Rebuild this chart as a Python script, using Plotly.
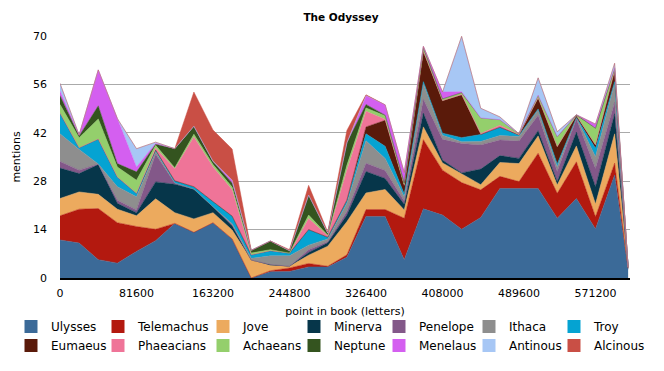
import plotly.graph_objects as go

# x positions (letters into the book)
positions = [0, 20400, 40800, 61200, 81600, 102000, 122400, 142800, 163200, 183600,
             204000, 224400, 244800, 265200, 285600, 306000, 326400, 346800, 367200, 387600,
             408000, 428400, 448800, 469200, 489600, 510000, 530400, 550800, 571200, 591600,
             606000]

ulysses    = [11.0, 10.1, 5.3, 4.3, 7.7, 10.8, 15.8, 13.2, 16.0, 11.3, 0.0, 1.8, 1.9, 3.2, 3.2, 6.0,
              17.8, 17.8, 5.3, 20.0, 18.2, 14.1, 17.5, 25.9, 25.9, 25.9, 17.3, 23.0, 14.2, 29.8, 2.5]
telemachus = [7.0, 9.8, 14.8, 11.7, 7.2, 3.3, 0, 0, 0, 0, 0, 0.3, 1.0, 1.0, 0.2, 0.7,
              2.0, 2.0, 12.0, 20.0, 13.0, 13.5, 8.0, 3.5, 2.0, 10.2, 7.2, 10.6, 3.5, 3.4, 0.3]
jove       = [5.0, 5.0, 4.1, 3.9, 3.1, 8.8, 3.1, 3.9, 2.9, 2.6, 5.2, 1.5, 0.5, 2.4, 5.8, 9.6,
              4.8, 5.8, 2.4, 3.7, 2.1, 2.5, 1.5, 4.0, 5.2, 5.0, 2.4, 4.6, 3.7, 8.5, 0.3]
minerva    = [8.8, 5.3, 8.6, 1.7, 0.9, 4.9, 8.2, 8.6, 1.7, 1.2, 0, 0.3, 0, 0.8, 1.0, 1.9,
              6.2, 3.2, 1.6, 4.0, 0.8, 0.3, 4.5, 2.0, 1.5, 1.5, 1.0, 4.0, 5.0, 5.8, 0]
penelope   = [1.9, 1.0, 0.2, 0.9, 0.8, 8.0, 0.4, 0, 0, 0.3, 0, 0, 0, 0.8, 0.3, 1.0,
              2.4, 2.3, 1.0, 4.0, 6.0, 8.5, 7.0, 4.5, 5.0, 4.5, 2.9, 3.8, 5.3, 3.3, 0]
ithaca     = [8.0, 6.0, 0, 3.9, 3.8, 0.8, 0, 0, 0, 0.3, 0.5, 2.5, 3.0, 1.3, 0.8, 2.4,
              6.5, 3.5, 1.2, 4.5, 1.2, 0.5, 1.0, 1.3, 1.3, 1.6, 1.4, 0.4, 3.4, 5.5, 0]
troy       = [6.0, 0.5, 7.2, 2.8, 1.0, 0.4, 0.6, 0.7, 1.5, 2.2, 1.0, 1.5, 0.8, 4.5, 0.5, 0.9,
              2.0, 3.5, 0.8, 0.6, 0.6, 1.2, 2.0, 2.4, 0.3, 0.2, 0.8, 0, 2.4, 0.5, 0]
eumaeus    = [0, 0, 0, 0, 0, 0, 0, 0, 0, 0, 0, 0, 0, 0, 0, 0,
              2.0, 7.5, 2.5, 8.6, 9.4, 12.3, 0, 0, 0.2, 3.2, 5.0, 0.6, 1.0, 3.2, 0]
phaeacians = [0, 0, 0, 0, 0, 0.6, 3.5, 14.4, 10.0, 7.6, 0, 0, 0, 3.2, 0.4, 8.7,
              4.5, 0.3, 0, 0.3, 0, 0.2, 0.3, 0.6, 0, 0, 0, 0, 0, 0, 0]
achaeans   = [2.5, 2.9, 5.8, 2.9, 3.8, 0.8, 0.3, 0.8, 0.7, 0.8, 0.5, 0.3, 0, 1.0, 0.2, 1.4,
              1.0, 1.0, 0.4, 0.6, 0.5, 0.5, 4.5, 1.6, 0.3, 0.8, 2.9, 0, 4.8, 0.5, 0]
neptune    = [2.6, 0.5, 3.8, 1.0, 2.4, 0.3, 5.5, 2.3, 0.8, 1.2, 0.8, 2.5, 0.7, 5.8, 0.6, 6.5,
              1.0, 0.2, 0.3, 0.3, 0, 0, 0, 0, 0, 0, 0, 0.2, 0, 0.3, 0]
menelaus   = [1.3, 0.3, 10.4, 13.0, 1.4, 0.3, 0, 0, 0.2, 0.8, 0, 0, 0, 0, 0, 0,
              2.6, 3.0, 3.0, 0.4, 2.0, 0.3, 0, 0, 0, 0, 0, 0, 1.2, 0, 0]
antinous   = [2.2, 0, 0, 0, 5.3, 0.3, 0, 0, 0, 0, 0, 0, 0, 0, 0, 0,
              0, 0, 0, 0, 0, 16.0, 2.8, 0.8, 0, 5.0, 1.4, 0, 0, 1.3, 0]
alcinous   = [0, 0, 0, 0, 0, 0, 0, 9.9, 9.0, 9.0, 0, 0, 0.3, 2.8, 0.3, 3.6,
              0.2, 0, 0, 0, 0, 0, 0, 0, 0, 0, 0, 0, 0, 0, 0]

names = ["Ulysses", "Telemachus", "Jove", "Minerva", "Penelope", "Ithaca", "Troy",
         "Eumaeus", "Phaeacians", "Achaeans", "Neptune", "Menelaus", "Antinous", "Alcinous"]
series = [ulysses, telemachus, jove, minerva, penelope, ithaca, troy,
          eumaeus, phaeacians, achaeans, neptune, menelaus, antinous, alcinous]
colors = ["#3b6a98", "#b3190f", "#ecaa5e", "#06364a", "#835889", "#8e8e8e", "#05a3d2",
          "#5a1a0a", "#ef7498", "#94cf6c", "#34541f", "#d45ff0", "#a7c7f5", "#c94f45"]

y_ticks = [0, 14, 28, 42, 56, 70]
x_ticks = [0, 81600, 163200, 244800, 326400, 408000, 489600, 571200]
x_tick_labels = ["0", "81600", "163200", "244800", "326400", "408000", "489600", "571200"]

FONT = "DejaVu Sans"
# the page body adds an 8px offset; figure coords = page coords - 8
OFF = 8
W, H = 664 - 2 * OFF, 371 - 2 * OFF
plot_l, plot_r, plot_t, plot_b = 60 - OFF, 630 - OFF, 36 - OFF, 278 - OFF
plot_w, plot_h = plot_r - plot_l, plot_b - plot_t

fig = go.Figure()

for name, vals, col in zip(names, series, colors):
    fig.add_trace(go.Scatter(
        x=positions, y=vals, name=name, stackgroup="one", mode="lines",
        line=dict(width=0.5, color=col), fillcolor=col, showlegend=False,
        hoverinfo="skip"))

# legend: 7 columns, each with two entries
col_left_px = [28, 115, 220, 311, 396, 486, 571]
legend_layouts = {}
for k in range(7):
    lname = "legend" if k == 0 else f"legend{k+1}"
    for j in (k, k + 7):
        fig.add_trace(go.Scatter(
            x=[None], y=[None], name=names[j], mode="markers",
            marker=dict(symbol="square", size=13, color=colors[j], line=dict(width=0)),
            legend=lname, showlegend=True))
    legend_layouts[lname] = dict(
        x=(col_left_px[k] - 17 - OFF - plot_l) / plot_w, xanchor="left",
        y=-(312 - OFF - plot_b) / plot_h, yanchor="top", orientation="v",
        traceorder="normal",
        font=dict(family=FONT, size=12, color="#000"),
        bgcolor="rgba(0,0,0,0)", borderwidth=0, itemwidth=30,
        tracegroupgap=0)

fig.update_layout(
    width=W, height=H,
    margin=dict(l=plot_l, r=W - plot_r, t=plot_t, b=H - plot_b, autoexpand=False),
    paper_bgcolor="white", plot_bgcolor="white",
    font=dict(family=FONT, size=11, color="#000"),
    title=dict(text="<b>The Odyssey</b>", x=(341 - OFF) / W, xref="container", xanchor="center",
               y=1 - (17 - OFF) / H, yref="container", yanchor="middle",
               font=dict(family=FONT, size=10.5, color="#000")),
    xaxis=dict(range=[0, 608000], tickvals=x_ticks, ticktext=x_tick_labels,
               showgrid=False, zeroline=False, showline=True, linecolor="#000", linewidth=2,
               ticks="", ticklabelstandoff=4, tickfont=dict(family=FONT, size=11),
               title=dict(text="point in book (letters)", font=dict(family=FONT, size=11),
                          standoff=8)),
    yaxis=dict(range=[0, 70], tickvals=y_ticks, showgrid=True, gridcolor="#aaaaaa",
               gridwidth=1, zeroline=False, showline=False, ticks="",
               ticklabelstandoff=12, tickfont=dict(family=FONT, size=11),
               title=dict(text="mentions", font=dict(family=FONT, size=11), standoff=10)),
    showlegend=True,
    **legend_layouts,
)

fig.write_html("out.html")
